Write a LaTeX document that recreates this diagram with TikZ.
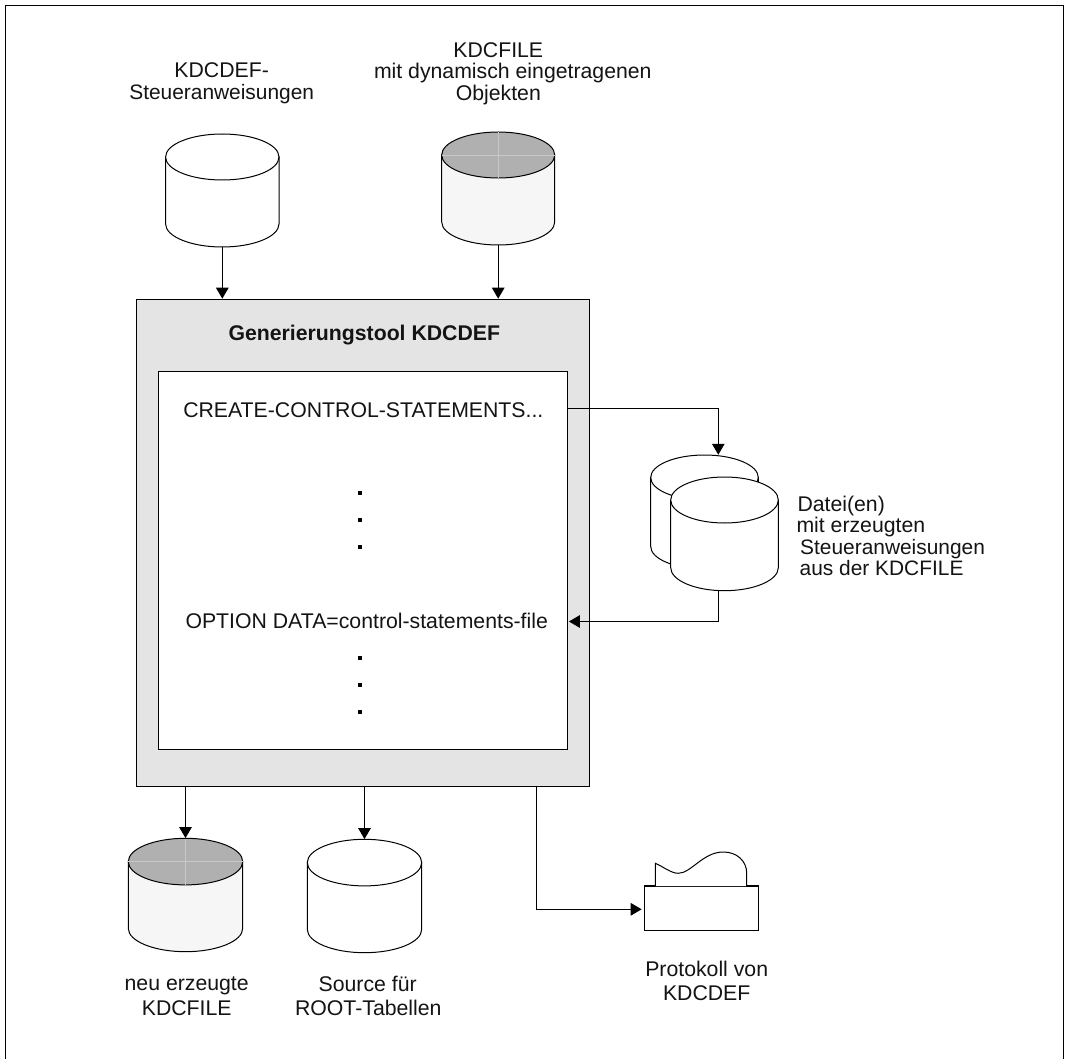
\documentclass[tikz,border=0pt]{standalone}
\usepackage{fontspec}
\setmainfont{Liberation Sans}
\usetikzlibrary{arrows.meta}
\definecolor{toolgray}{HTML}{E4E4E4}
\definecolor{capgray}{HTML}{B0B0B0}
\definecolor{sidegray}{HTML}{F6F6F6}
\tikzset{
  x=1pt,y=-1pt,
  line/.style={line width=1.2pt,draw=black},
  conn/.style={line width=1.2pt,draw=black,-{Triangle[length=11pt,width=12.5pt]}},
  cylline/.style={line width=1pt,draw=black},
  label/.style={font=\fontsize{21.25}{22.5}\selectfont,align=center,anchor=base,inner sep=0pt,text=black!92},
  labelleft/.style={label,align=left,anchor=base west},
  narrow/.style={font=\fontsize{20.9}{22.5}\selectfont},
  marker/.style={fill=black,inner sep=0pt,minimum size=4pt,rectangle},
  cylbox/.style={inner sep=0pt,rectangle},
}
% #1 name, #2 cx, #3 rx, #4 top y, #5 ry, #6 bottom y, #7 side fill, #8 cap fill
\newcommand{\dbcyl}[8]{%
  \node[cylbox,minimum width={2*#3 pt},minimum height={(#6-#4)*1pt}] (#1) at (#2,{(#4+#6)/2}) {};
  \path[cylline,fill=#7] (#2-#3,#4+#5) -- (#2-#3,#6-#5)
     .. controls (#2-#3,#6-.45*#5) and (#2-.55*#3,#6) .. (#2,#6)
     .. controls (#2+.55*#3,#6) and (#2+#3,#6-.45*#5) .. (#2+#3,#6-#5)
     -- (#2+#3,#4+#5) -- cycle;
  \path[cylline,fill=#8] (#2,#4+#5) ellipse [x radius=#3,y radius=#5];
}
\begin{document}
\begin{tikzpicture}
\useasboundingbox (0,0) rectangle (1068,1059);
\fill[white] (0,0) rectangle (1068,1059);
% page frame (open at the bottom)
\draw[line] (5.5,1059) -- (5.5,5.5) -- (1063.3,5.5) -- (1063.3,1059);

% main boxes
\node[line,fill=toolgray,rectangle,inner sep=0pt,minimum width=453pt,minimum height=487pt] (tool) at (362.8,542.8) {};
\node[line,fill=white,rectangle,inner sep=0pt,minimum width=409pt,minimum height=378pt] (inner) at (362.8,560.3) {};

% cylinders
\dbcyl{src}{222.3}{56.7}{134}{23}{247}{white}{white}
\dbcyl{kdcfile}{498.2}{56.5}{132}{23}{245}{sidegray}{capgray}
\dbcyl{back}{704.5}{53.8}{455}{22.5}{569}{white}{white}
\dbcyl{front}{724.5}{53.8}{477}{23}{590.7}{white}{white}
\dbcyl{newfile}{185.5}{57.2}{838.3}{23.3}{951.7}{sidegray}{capgray}
\dbcyl{root}{364.5}{57.2}{839.3}{23.3}{952.7}{white}{white}
% faint cross on the shaded caps
\draw[capgray!70!white,line width=.6pt] (441.7,155) -- (554.7,155) (498.2,132.5) -- (498.2,178);
\draw[capgray!70!white,line width=.6pt] (128.3,861.6) -- (242.7,861.6) (185.5,838.8) -- (185.5,884.5);

% printer
\node[line,fill=white,rectangle,inner sep=0pt,minimum width=114.4pt,minimum height=44.3pt] (printer) at (701.5,908.2) {};
\draw[cylline,fill=white] (655.3,886) -- (655.3,863.3) .. controls (663,866.5) and (671,873.3) .. (678.3,873.3)
   .. controls (691,873.3) and (703,852) .. (723.3,852)
   .. controls (737,852) and (746.7,861) .. (746.7,873.3) -- (746.7,886);

% texts
\node[label] (t1) at (221.7,77.7) {KDCDEF-};
\node[label,narrow] (t2) at (221.7,100) {Steueranweisungen};
\node[label] (t3) at (498.3,57.3) {KDCFILE};
\node[label] (t4) at (512.8,78.5) {mit dynamisch eingetragenen};
\node[label] (t5) at (498.3,101) {Objekten};
\node[label,font=\fontsize{21.25}{22.5}\selectfont\bfseries] (title) at (364.3,340) {Generierungstool KDCDEF};
\node[label] (create) at (363.3,417.3) {CREATE-CONTROL-STATEMENTS...};
\node[label] (option) at (366.7,628.3) {OPTION DATA=control-statements-file};
\node[labelleft] (d1) at (797.3,511.7) {Datei(en)};
\node[labelleft] (d2) at (796.3,532.7) {mit erzeugten};
\node[labelleft,narrow] (d3) at (800,554) {Steueranweisungen};
\node[labelleft,narrow] (d4) at (799.5,575) {aus der KDCFILE};
\node[label] (n1) at (186.7,990) {neu erzeugte};
\node[label] (n2) at (186.7,1015) {KDCFILE};
\node[label] (s1) at (367.7,991.7) {Source für};
\node[label] (s2) at (368.3,1015.7) {ROOT-Tabellen};
\node[label] (p1) at (706.7,976.7) {Protokoll von};
\node[label] (p2) at (706.7,1000.7) {KDCDEF};

% ellipsis markers
\node[marker] (m1) at (360.3,492.7) {};
\node[marker] (m2) at (360.3,519.7) {};
\node[marker] (m3) at (360.3,546.7) {};
\node[marker] (m4) at (360.3,658) {};
\node[marker] (m5) at (360.3,685) {};
\node[marker] (m6) at (360.3,711.7) {};

% connectors
\coordinate (r1) at (718.3,408.3);
\coordinate (r2) at (718.3,621.5);
\coordinate (r3) at (536.7,909.3);
\draw[conn] (src.south) -- (src.south |- tool.north);
\draw[conn] (kdcfile.south) -- (kdcfile.south |- tool.north);
\draw[conn] (r1 -| inner.east) -- (r1) -- (r1 |- back.north);
\draw[conn] (r2 |- front.south) -- (r2) -- ([xshift=1pt]r2 -| inner.east);
\draw[conn] (newfile.north |- tool.south) -- (newfile.north);
\draw[conn] (root.north |- tool.south) -- (root.north);
\draw[conn] (r3 |- tool.south) -- (r3) -- ([xshift=-2pt]r3 -| printer.west);
\end{tikzpicture}
\end{document}
